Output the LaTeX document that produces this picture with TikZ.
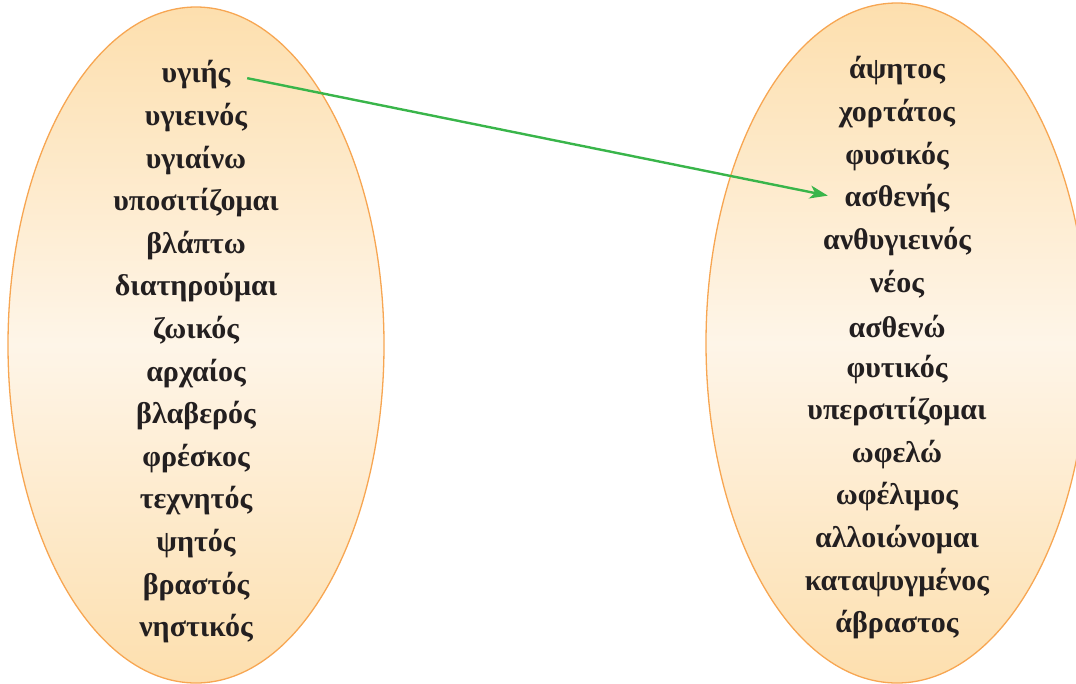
\documentclass[tikz,border=0pt]{standalone}
\usepackage{fontspec}
\setmainfont{Liberation Serif}
\usetikzlibrary{arrows.meta}
\definecolor{ellstroke}{RGB}{247,166,82}
\definecolor{ellouter}{RGB}{253,223,174}
\definecolor{ellinner}{RGB}{254,245,232}
\definecolor{arrowgreen}{RGB}{57,181,74}
\definecolor{wordcol}{RGB}{35,31,32}
\tikzset{
  word/.style={font=\fontsize{30}{34}\selectfont\bfseries, text=wordcol, inner sep=1pt, anchor=center},
  bubble/.style={draw=ellstroke, line width=1.3pt, top color=ellouter, bottom color=ellouter, middle color=ellinner},
  link/.style={draw=arrowgreen, line width=2.4pt, -{Stealth[length=18pt,width=13pt,inset=5pt]}}
}
\begin{document}
\begin{tikzpicture}[x=1pt,y=-1pt]
\useasboundingbox (0,0) rectangle (1076,683);
\shade[bubble] (196,345) ellipse [x radius=188, y radius=338];
\shade[bubble] (897,343) ellipse [x radius=191, y radius=340];
\foreach \w [count=\i] in {υγιής,υγιεινός,υγιαίνω,υποσιτίζομαι,βλάπτω,διατηρούμαι,ζωικός,αρχαίος,βλαβερός,φρέσκος,τεχνητός,ψητός,βραστός,νηστικός}{
  \node[word] (l\i) at (196,{75+(\i-1)*42.6}) {\w};
}
\foreach \w [count=\i] in {άψητος,χορτάτος,φυσικός,ασθενής,ανθυγιεινός,νέος,ασθενώ,φυτικός,υπερσιτίζομαι,ωφελώ,ωφέλιμος,αλλοιώνομαι,καταψυγμένος,άβραστος}{
  \node[word] (r\i) at (897,{71+(\i-1)*42.6}) {\w};
}
\draw[link, shorten <=16pt, shorten >=16pt] (l1.east) -- (r4.west);
\end{tikzpicture}
\end{document}
